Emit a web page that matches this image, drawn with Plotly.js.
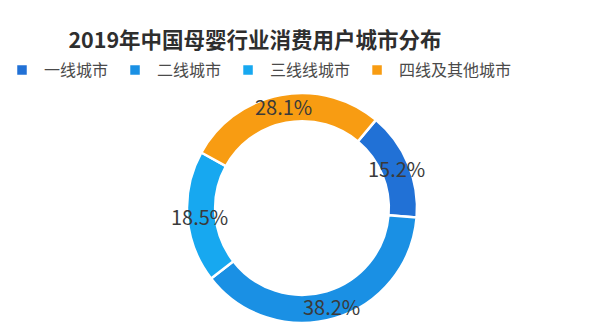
<!DOCTYPE html>
<html>
<head>
<meta charset="utf-8">
<script src="https://cdn.plot.ly/plotly-3.0.1.min.js"></script>
<style>html,body{margin:0;padding:0;background:#fff;}#chart{width:600px;height:333px;}</style>
</head>
<body>
<div id="chart"></div>
<script>
// ---- data ----
const categories = ['一线城市', '二线城市', '三线线城市', '四线及其他城市'];
const shares = [15.2, 38.2, 18.5, 28.1];
const chartTitle = '2019年中国母婴行业消费用户城市分布';

// ---- styles / geometry ----
const W = 600, H = 333;
const colors = ['#2171d6', '#1a90e4', '#17a8f0', '#f89c12'];
const cx = 302, cy = 208, R = 115;     // pie centre and outer radius (px)
const startAngle = 40;                   // degrees clockwise from 12 o'clock
const labelR = 0.895;                    // label radius as fraction of outer radius

const domain = {
  x: [(cx - R) / W, (cx + R) / W],
  y: [1 - (cy + R) / H, 1 - (cy - R) / H]
};

const pie = {
  type: 'pie',
  labels: categories,
  values: shares,
  sort: false,
  direction: 'clockwise',
  rotation: startAngle,
  hole: 0.755,
  textinfo: 'none',
  hoverinfo: 'label+percent',
  marker: { colors: colors, line: { color: '#ffffff', width: 2.5 } },
  domain: domain
};

// labels placed at mid-angle of each slice, computed from values
const total = shares.reduce((a, b) => a + b, 0);
let acc = 0;
const annotations = shares.map((v, i) => {
  const mid = startAngle + (acc + v / 2) / total * 360;
  acc += v;
  const a = mid * Math.PI / 180;
  const px = cx + R * labelR * Math.sin(a);
  const py = cy - R * labelR * Math.cos(a);
  return {
    xref: 'paper', yref: 'paper',
    x: px / W, y: 1 - py / H,
    xanchor: 'center', yanchor: 'middle',
    text: v.toFixed(1) + '%',
    showarrow: false,
    font: { family: 'Noto Sans CJK SC, Noto Sans, sans-serif', size: 20, color: '#3a3a3a' }
  };
});

const layout = {
  width: W, height: H,
  margin: { l: 0, r: 0, t: 0, b: 0 },
  paper_bgcolor: '#ffffff',
  plot_bgcolor: '#ffffff',
  title: {
    text: '<b>' + chartTitle + '</b>',
    x: 255 / W, xref: 'paper', xanchor: 'center',
    y: 1 - 40 / H, yref: 'paper', yanchor: 'middle',
    font: { family: 'Noto Sans CJK SC, sans-serif', size: 21.5, color: '#2e2e2e' }
  },
  showlegend: true,
  legend: {
    orientation: 'h',
    x: 0, xanchor: 'left',
    y: 1 - 70 / H, yanchor: 'middle',
    itemwidth: 34,
    font: { family: 'Noto Sans CJK SC, sans-serif', size: 16, color: '#4a4a4a' },
    bgcolor: 'rgba(0,0,0,0)',
    traceorder: 'normal'
  },
  annotations: annotations
};

Plotly.newPlot('chart', [pie], layout, { displayModeBar: false, staticPlot: true });
</script>
</body>
</html>
